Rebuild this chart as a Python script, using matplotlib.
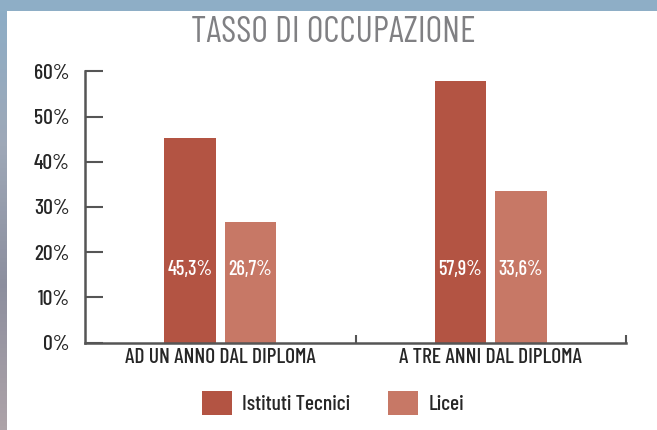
import matplotlib
matplotlib.use("Agg")
import matplotlib.pyplot as plt
import numpy as np
from matplotlib.patches import Rectangle

plt.rcParams['font.family'] = ['Barlow Condensed', 'DejaVu Sans']
plt.rcParams['font.weight'] = 500

categories = ["AD UN ANNO DAL DIPLOMA", "A TRE ANNI DAL DIPLOMA"]
series_names = ["Istituti Tecnici", "Licei"]
tecnici = [45.3, 57.9]
licei = [26.7, 33.6]
value_labels_tecnici = ["45,3%", "57,9%"]
value_labels_licei = ["26,7%", "33,6%"]
yticks = [0, 10, 20, 30, 40, 50, 60]
ytick_labels = ["0%", "10%", "20%", "30%", "40%", "50%", "60%"]
title = "TASSO DI OCCUPAZIONE"

c_tec = "#b35443"
c_lic = "#c77866"
txt = "#262626"
axc = "#555555"

fig = plt.figure(figsize=(6.57, 4.30), dpi=100)
fig.patch.set_facecolor("white")

# background photo strips
bg = fig.add_axes([0, 0, 1, 1], zorder=-10)
bg.set_axis_off()
bg.add_patch(Rectangle((0, 0), 657, 11, color="#8eaec6", lw=0))
cols = np.array([[0.55, 0.68, 0.78], [0.62, 0.66, 0.72], [0.55, 0.56, 0.62], [0.68, 0.64, 0.66]])
idx = np.linspace(0, len(cols) - 1, 100)
img = np.array([np.interp(idx, np.arange(len(cols)), cols[:, k]) for k in range(3)]).T[:, None, :]
bg.imshow(img, extent=(0, 7, 430, 0), aspect='auto')
bg.set_xlim(0, 657)
bg.set_ylim(430, 0)

ax = fig.add_axes([85 / 657, 1 - 342.5 / 430, (626 - 85) / 657, (342.5 - 71.5) / 430])
x = np.arange(len(categories))
w = 0.19
off = 0.112
b1 = ax.bar(x - off, tecnici, w, color=c_tec, label=series_names[0])
b2 = ax.bar(x + off, licei, w, color=c_lic, label=series_names[1])
for rect, lab in zip(b1, value_labels_tecnici):
    ax.text(rect.get_x() + rect.get_width() / 2, 16.2, lab, ha='center', va='center',
            color='white', fontsize=14.5)
for rect, lab in zip(b2, value_labels_licei):
    ax.text(rect.get_x() + rect.get_width() / 2, 16.2, lab, ha='center', va='center',
            color='white', fontsize=14.5)

ax.set_xlim(-0.5, 1.5)
ax.set_ylim(0, 60)
ax.set_yticks(yticks)
ax.set_yticklabels(ytick_labels, fontsize=15.5, color=txt)
ax.set_xticks([0.5, 1.5])
ax.set_xticklabels([])
ax.set_xticks(x, minor=True)
ax.set_xticklabels(categories, minor=True, fontsize=15.5, color=txt)
ax.tick_params(axis='x', which='minor', length=0, pad=4)
ax.tick_params(axis='x', which='major', direction='in', length=6, width=1.5, color=axc)
ax.tick_params(axis='y', direction='in', length=13, width=1.5, color=axc, pad=11)
for s in ['top', 'right']:
    ax.spines[s].set_visible(False)
for s in ['left', 'bottom']:
    ax.spines[s].set_color(axc)
    ax.spines[s].set_linewidth(1.8)
ax.set_facecolor('none')

fig.text(333 / 657, 1 - 32 / 430, title, ha='center', va='center', fontsize=26,
         color="#808083", fontweight='normal')

leg = fig.legend(handles=[b1, b2], labels=series_names, loc='center', bbox_to_anchor=(333 / 657, 1 - 403 / 430),
                 ncol=2, frameon=False, fontsize=15.5, handlelength=1.4, handleheight=1.4,
                 columnspacing=1.75, handletextpad=0.46)
for t in leg.get_texts():
    t.set_color(txt)

fig.savefig("out.png", dpi=100)
